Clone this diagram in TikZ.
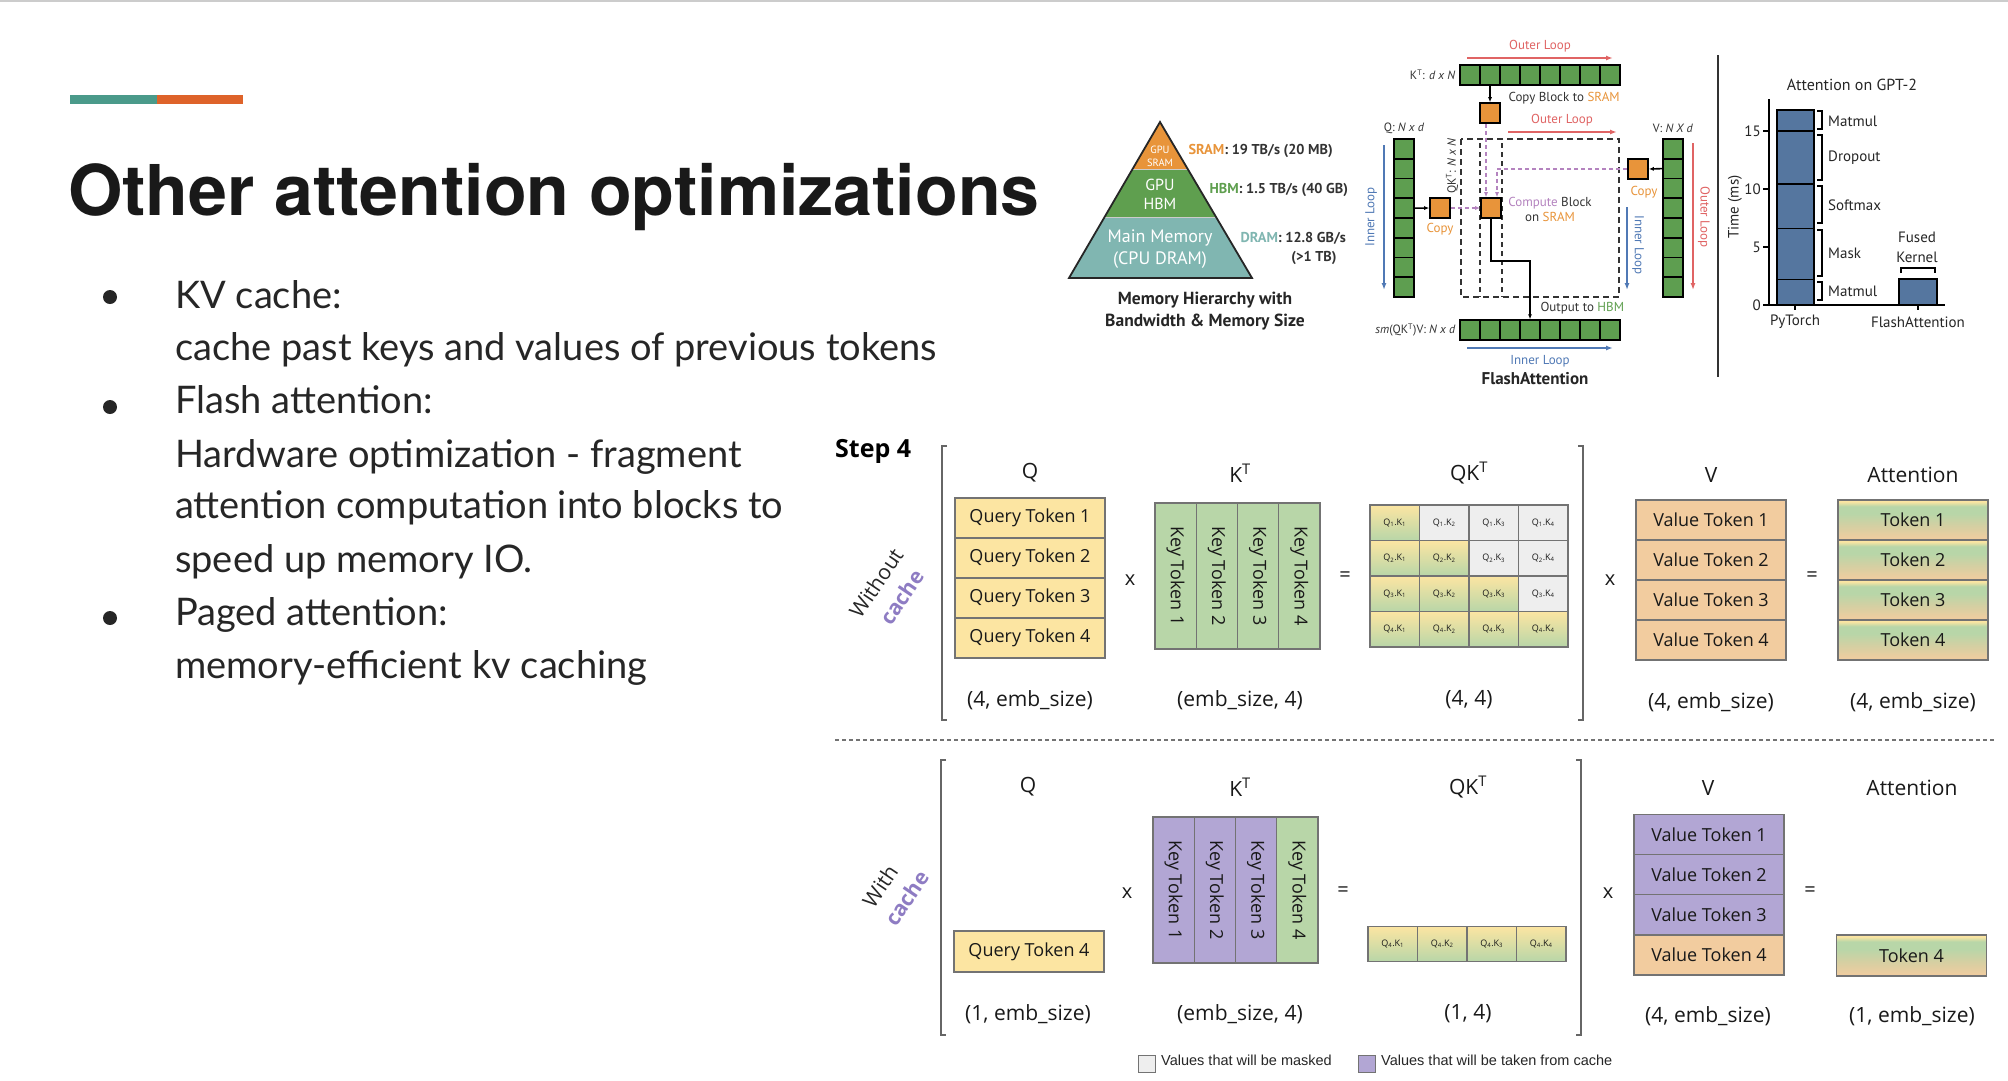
\documentclass[tikz,border=0pt]{standalone}
\usepackage{fontspec}
\setmainfont{Lato}
\newfontfamily\headfont{TeX Gyre Heros}
\newfontfamily\slidefont{Open Sans}
\newfontfamily\paperfont{PT Sans}
\newfontfamily\legendfont{Liberation Sans}
\usetikzlibrary{arrows.meta,positioning}

\definecolor{accteal}{HTML}{4A9A8A}
\definecolor{accorange}{HTML}{DE632A}
\definecolor{qyellow}{HTML}{FCE5A2}
\definecolor{kgreen}{HTML}{B8D6A8}
\definecolor{vorange}{HTML}{F2CC9F}
\definecolor{cachepurple}{HTML}{B2A6D4}
\definecolor{maskgray}{HTML}{EEEEEE}
\definecolor{cachetext}{HTML}{8E7CC3}
\definecolor{sramorange}{HTML}{E8943A}
\definecolor{hbmgreen}{HTML}{5F9F4F}
\definecolor{dramteal}{HTML}{80B6B1}
\definecolor{blockgreen}{HTML}{5E9E50}
\definecolor{loopred}{HTML}{E06464}
\definecolor{loopblue}{HTML}{5079B5}
\definecolor{computepurple}{HTML}{B483BF}
\definecolor{barblue}{HTML}{55769F}
\definecolor{tokmix}{HTML}{D6CFA2}

% attention rows: yellow edge on top, green band, orange towards the bottom
\pgfdeclareverticalshading{tokenshade}{100bp}{color(0bp)=(vorange); color(25bp)=(vorange);
  color(42bp)=(tokmix); color(58bp)=(kgreen); color(67bp)=(kgreen); color(73bp)=(qyellow);
  color(75bp)=(qyellow); color(100bp)=(qyellow)}

\newcommand{\fsz}[2]{\fontsize{#1}{#2}\selectfont}

\tikzset{
  bullettext/.style={anchor=base west, inner sep=0pt, font=\fsz{38}{44}, text=black!85},
  tok/.style={draw=black!55, line width=1.2pt, minimum width=150, minimum height=40,
    inner sep=0pt, font=\slidefont\fsz{18}{22}, text=black!90},
  qrow/.style={tok, fill=qyellow},
  vrow/.style={tok, fill=vorange},
  vcache/.style={tok, fill=cachepurple},
  attrow/.style={tok, shade, shading=tokenshade},
  kcol/.style={tok, fill=kgreen, minimum width=146, minimum height=41.25, rotate=-90},
  kcache/.style={kcol, fill=cachepurple},
  qkbox/.style={tok, minimum width=49.5, minimum height=35.5, font=\slidefont\fsz{9}{10}},
  seenqk/.style={qkbox, top color=qyellow, bottom color=kgreen},
  maskedqk/.style={qkbox, fill=maskgray},
  hdr/.style={font=\slidefont\fsz{21}{24}, text=black!90},
  opsym/.style={font=\slidefont\fsz{20}{24}, text=black!90},
  brk/.style={black!60, line width=2.5pt},
  flashblock/.style={draw=black, line width=1.6pt, fill=blockgreen, minimum width=20,
    minimum height=19.75, inner sep=0pt},
  srambox/.style={draw=black, line width=1.6pt, fill=sramorange, minimum size=20, inner sep=0pt},
  papertext/.style={font=\paperfont\fsz{13}{15}, text=black!80},
  pyrlabel/.style={anchor=west, font=\paperfont\bfseries\fsz{14.3}{17}, text=black!80},
  charttext/.style={font=\paperfont\fsz{15}{20}, text=black!85},
  loopline/.style={line width=1.8pt, -{Latex[length=7pt,width=5pt]}},
  cacheflow/.style={computepurple, line width=1.6pt, dash pattern=on 4pt off 3pt,
    -{Latex[length=5pt,width=4pt]}},
  dataflow/.style={black, line width=1.6pt, -{Latex[length=5pt,width=4pt]}},
  legendtext/.style={anchor=west, inner sep=0pt, font=\legendfont\fsz{14.5}{16}, text=black!85},
}

\begin{document}
\begin{tikzpicture}[x=1pt,y=-1pt]
\useasboundingbox (0,0) rectangle (2008,1080);
\fill[white] (0,0) rectangle (2008,1080);
\draw[black!20, line width=1.5pt] (0,1) -- (2008,1);

% title
\fill[accteal] (70,95) rectangle (157,104);
\fill[accorange] (157,95) rectangle (243,104);
\node[anchor=base west, inner sep=0pt, font=\headfont\bfseries\fsz{70}{80}, text=black!90]
  (title) at (68,215) {Other attention optimizations};

% bullet list
\foreach \y in {297,407,618} \fill[black!85] (110,\y) circle (7);
\node[bullettext] (kvhead) at (175,308) {KV cache:};
\node[bullettext] (kvbody) at (175,360) {cache past keys and values of previous tokens};
\node[bullettext] (flhead) at (175,413) {Flash attention:};
\node[bullettext] (flbodya) at (175,467) {Hardware optimization - fragment};
\node[bullettext] (flbodyb) at (175,518) {attention computation into blocks to};
\node[bullettext] (flbodyc) at (175,572) {speed up memory IO.};
\node[bullettext] (pghead) at (175,625) {Paged attention:};
\node[bullettext] (pgbody) at (175,678) {memory-efficient kv caching};

% memory pyramid
\fill[sramorange] (1160,122) -- (1132.6,169) -- (1187.4,169) -- cycle;
\fill[hbmgreen] (1132.6,169) -- (1187.4,169) -- (1215.4,217) -- (1104.6,217) -- cycle;
\fill[dramteal] (1104.6,217) -- (1215.4,217) -- (1252,278) -- (1069,278) -- cycle;
\draw[white!80!black, line width=0.8pt] (1132.6,169) -- (1187.4,169) (1104.6,217) -- (1215.4,217);
\draw[black!85, line width=1.8pt, line join=miter] (1160,122) -- (1252,278) -- (1069,278) -- cycle;
\node[align=center, text=white, font=\paperfont\fsz{10.5}{13}] (sram) at (1160,156) {GPU\\SRAM};
\node[align=center, text=white, font=\paperfont\fsz{16}{19}] (hbm) at (1160,194) {GPU\\HBM};
\node[align=center, text=white, font=\paperfont\fsz{18}{22}] (dram) at (1160,249) {Main Memory\\(CPU DRAM)};
\node[pyrlabel] (sramlbl) at (1185,151) {\textcolor{sramorange}{SRAM}: 19 TB/s (20 MB)};
\node[pyrlabel] (hbmlbl) at (1206,190) {\textcolor{hbmgreen}{HBM}: 1.5 TB/s (40 GB)};
\node[pyrlabel] (dramlbl) at (1237,238) {\textcolor{dramteal}{DRAM}: 12.8 GB/s};
\node[pyrlabel, anchor=center] (dramsize) at (1314,258) {(>1 TB)};
\node[align=center, font=\paperfont\bfseries\fsz{17.5}{22}, text=black!85] (pyrcap) at (1205,311)
  {Memory Hierarchy with\\Bandwidth \& Memory Size};

% FlashAttention tiling
\foreach \i in {1,...,8}{
  \node[flashblock] (kt\i) at (1450+20*\i,75) {};
  \node[flashblock] (o\i) at (1450+20*\i,330) {};
  \node[flashblock] (q\i) at (1404,129.125+19.75*\i) {};
  \node[flashblock] (v\i) at (1673,129.125+19.75*\i) {};
}
\node[papertext, anchor=east, font=\paperfont\fsz{12}{14}] (ktlbl) at (1459,75) {K\textsuperscript{T}: \textit{d x N}};
\node[papertext, font=\paperfont\fsz{12}{14}] (qlbl) at (1404,128) {Q: \textit{N x d}};
\node[papertext, font=\paperfont\fsz{12}{14}] (vlbl) at (1673,128) {V: \textit{N X d}};
\node[papertext, anchor=east, font=\paperfont\fsz{12}{14}] (olbl) at (1459,330) {\textit{sm}(QK\textsuperscript{T})V: \textit{N x d}};
\node[papertext, rotate=90, font=\paperfont\fsz{12}{14}] (qktlbl) at (1452,166) {QK\textsuperscript{T}: \textit{N x N}};

\draw[black!80, line width=1.3pt, dash pattern=on 6pt off 4pt] (1461,139) rectangle (1619,297);
\draw[black!80, line width=1.3pt, dash pattern=on 5pt off 4pt] (1480,143) -- (1480,297) (1502,143) -- (1502,297);

\node[srambox] (kcopy) at (1490,113) {};
\node[srambox] (qcopy) at (1440,208) {};
\node[srambox] (vcopy) at (1638,169) {};
\node[srambox] (compute) at (1491,208) {};

\draw[dataflow] (kt2.south) -- (kcopy.north);
\draw[dataflow] (q4.east) -- (qcopy.west);
\draw[dataflow] (v2.west) -- (vcopy.east);
\draw[cacheflow] ([xshift=-4pt]kcopy.south) -- ([xshift=-4pt]kcopy.south |- compute.north);
\draw[cacheflow] (vcopy.west) -| ([xshift=6pt]compute.north);
\draw[cacheflow] (qcopy.east) -- (compute.west);
\draw[dataflow, line join=miter] (compute.south) -- ++(0,42) -| (o4.north);

\node[papertext, anchor=west] (copyblk) at (1505,98) {Copy Block to \textcolor{sramorange}{SRAM}};
\node[papertext, text=sramorange] (qcopylbl) at (1440,229) {Copy};
\node[papertext, text=sramorange] (vcopylbl) at (1644,192) {Copy};
\node[papertext, align=center] (computelbl) at (1550,209)
  {\textcolor{computepurple}{Compute} Block\\on \textcolor{sramorange}{SRAM}};
\node[papertext, anchor=west] (outlbl) at (1537,308) {Output to \textcolor{hbmgreen}{HBM}};

\draw[loopline, loopred] (1467,58) -- (1613,58);
\node[papertext, text=loopred] (outer1) at (1540,46) {Outer Loop};
\draw[loopline, loopred] (1508,132) -- (1617,132);
\node[papertext, text=loopred] (outer2) at (1562,120) {Outer Loop};
\draw[loopline, loopred] (1693,143) -- (1693,290);
\node[papertext, text=loopred, rotate=-90] (outer3) at (1704,217) {Outer Loop};
\draw[loopline, loopblue] (1627,207) -- (1627,290);
\node[papertext, text=loopblue, rotate=-90] (inner1) at (1638,245) {Inner Loop};
\draw[loopline, loopblue] (1384,145) -- (1384,290);
\node[papertext, text=loopblue, rotate=90] (inner2) at (1371,217) {Inner Loop};
\draw[loopline, loopblue] (1467,348) -- (1613,348);
\node[papertext, text=loopblue] (inner3) at (1540,361) {Inner Loop};
\node[font=\paperfont\bfseries\fsz{17}{20}, text=black!85] (flashcap) at (1535,379) {FlashAttention};

\draw[black!80, line width=1.5pt] (1718,55) -- (1718,377);

% GPT-2 timing chart
\node[charttext, font=\paperfont\fsz{16}{20}] (charttitle) at (1852,85) {Attention on GPT-2};
\foreach \lo/\hi in {0/2.2,2.2/6.6,6.6/10.4,10.4/15,15/16.8}
  \draw[fill=barblue, line width=1.8pt] (1777,305-11.6*\lo) rectangle (1814,305-11.6*\hi);
\draw[fill=barblue, line width=1.8pt] (1899,305) rectangle (1937,279);
\draw[line width=1.8pt] (1769,99) -- (1769,305) -- (1945,305);
\foreach \v in {0,5,10,15}{
  \draw[line width=1.5pt] (1763,305-11.6*\v) -- (1769,305-11.6*\v);
  \node[charttext, anchor=east, inner sep=1pt] (tick\v) at (1762,305-11.6*\v) {\v};
}
\draw[line width=1.5pt] (1795,305) -- (1795,310) (1918,305) -- (1918,310);
\node[charttext, rotate=90] (timeax) at (1735,207) {Time (ms)};
\foreach \a/\b/\lbl/\ly in {111/129/Matmul/121, 135/180/Dropout/158, 186/223/Softmax/205,
    230/276/Mask/253, 282/300/Matmul/291}{
  \draw[line width=1.5pt] (1817,\a) -- (1822,\a) -- (1822,\b) -- (1817,\b);
  \node[charttext, anchor=west, inner sep=0pt] at (1828,\ly) {\lbl};
}
\draw[line width=1.5pt] (1901,273) -- (1901,268) -- (1935,268) -- (1935,273);
\node[charttext, align=center] (fused) at (1917,247) {Fused\\Kernel};
\node[charttext] (pytorchlbl) at (1795,322) {PyTorch};
\node[charttext] (flashlbl) at (1918,322) {FlashAttention};

% step 4 without cache
\node[anchor=west, inner sep=0pt, font=\slidefont\bfseries\fsz{25}{28}] (step) at (835,451) {Step 4};
\node[rotate=56, font=\slidefont\fsz{21}{24}, text=black!85] (wo) at (876,583) {Without};
\node[rotate=56, font=\slidefont\bfseries\fsz{21}{24}, text=cachetext] (woc) at (902,597) {cache};
\draw[brk] (947,446) -- (942,446) -- (942,720) -- (947,720);
\draw[brk] (1578,446) -- (1583,446) -- (1583,720) -- (1578,720);

\node[hdr] (hqa) at (1030,473) {Q};
\node[hdr] (hka) at (1240,473) {K\textsuperscript{T}};
\node[hdr] (hqka) at (1469,473) {QK\textsuperscript{T}};
\node[hdr] (hva) at (1711,475) {V};
\node[hdr] (hatta) at (1913,475) {Attention};
\foreach \i in {1,...,4}{
  \node[qrow] (qa\i) at (1030,478+40*\i) {Query Token \i};
  \node[kcol] (ka\i) at (1134.4+41.25*\i,576) {Key Token \i};
  \node[vrow] (va\i) at (1711,480+40*\i) {Value Token \i};
  \node[attrow] (atta\i) at (1913,480+40*\i) {Token \i};
}
\foreach \i/\j in {1/1,2/1,2/2,3/1,3/2,3/3,4/1,4/2,4/3,4/4}
  \node[seenqk] (qka\i\j) at (1345.25+49.5*\j,487.25+35.5*\i) {Q\textsubscript{\i}.K\textsubscript{\j}};
\foreach \i/\j in {1/2,1/3,1/4,2/3,2/4,3/4}
  \node[maskedqk] (qka\i\j) at (1345.25+49.5*\j,487.25+35.5*\i) {Q\textsubscript{\i}.K\textsubscript{\j}};
\node[opsym] (mula) at (1130,580) {x};
\node[opsym] (eqa) at (1345,577) {=};
\node[opsym] (mulb) at (1610,580) {x};
\node[opsym] (eqb) at (1812,577) {=};
\node[hdr] (dqa) at (1030,700) {(4, emb\_size)};
\node[hdr] (dka) at (1240,700) {(emb\_size, 4)};
\node[hdr] (dqka) at (1469,700) {(4, 4)};
\node[hdr] (dva) at (1711,702) {(4, emb\_size)};
\node[hdr] (datta) at (1913,702) {(4, emb\_size)};

\draw[black!55, line width=1.2pt, dash pattern=on 4pt off 3pt] (835,740) -- (1995,740);

% step 4 with cache
\node[rotate=56, font=\slidefont\fsz{21}{24}, text=black!85] (wi) at (880,886) {With};
\node[rotate=56, font=\slidefont\bfseries\fsz{21}{24}, text=cachetext] (wic) at (907,898) {cache};
\draw[brk] (946,760) -- (941,760) -- (941,1035) -- (946,1035);
\draw[brk] (1576,760) -- (1581,760) -- (1581,1035) -- (1576,1035);

\node[hdr] (hqb) at (1028,787) {Q};
\node[hdr] (hkb) at (1240,787) {K\textsuperscript{T}};
\node[hdr] (hqkb) at (1468,787) {QK\textsuperscript{T}};
\node[hdr] (hvb) at (1708,788) {V};
\node[hdr] (hattb) at (1912,788) {Attention};
\node[qrow, minimum height=41] (qb4) at (1029,951.5) {Query Token 4};
\foreach \i in {1,2,3}{
  \node[kcache] (kb\i) at (1132.4+41.25*\i,890) {Key Token \i};
  \node[vcache] (vb\i) at (1709,794+40.25*\i) {Value Token \i};
}
\node[kcol] (kb4) at (1297.4,890) {Key Token 4};
\node[vrow] (vb4) at (1709,955) {Value Token 4};
\foreach \j in {1,...,4}
  \node[seenqk] (qkb\j) at (1343.25+49.5*\j,944) {Q\textsubscript{4}.K\textsubscript{\j}};
\node[attrow, minimum height=41] (attb4) at (1911.5,955.5) {Token 4};
\node[opsym] (mulc) at (1127,893) {x};
\node[opsym] (eqc) at (1343,892) {=};
\node[opsym] (muld) at (1608,893) {x};
\node[opsym] (eqd) at (1810,892) {=};
\node[hdr] (dqb) at (1028,1014) {(1, emb\_size)};
\node[hdr] (dkb) at (1240,1014) {(emb\_size, 4)};
\node[hdr] (dqkb) at (1468,1014) {(1, 4)};
\node[hdr] (dvb) at (1708,1016) {(4, emb\_size)};
\node[hdr] (dattb) at (1912,1016) {(1, emb\_size)};

% legend
\node[draw=black!55, line width=1pt, fill=maskgray, minimum size=17, inner sep=0pt] (legmask) at (1147,1064) {};
\node[legendtext] (legmasktxt) at (1161,1060) {Values that will be masked};
\node[draw=black!55, line width=1pt, fill=cachepurple, minimum size=17, inner sep=0pt] (legcache) at (1367,1064) {};
\node[legendtext] (legcachetxt) at (1381,1060) {Values that will be taken from cache};
\end{tikzpicture}
\end{document}
